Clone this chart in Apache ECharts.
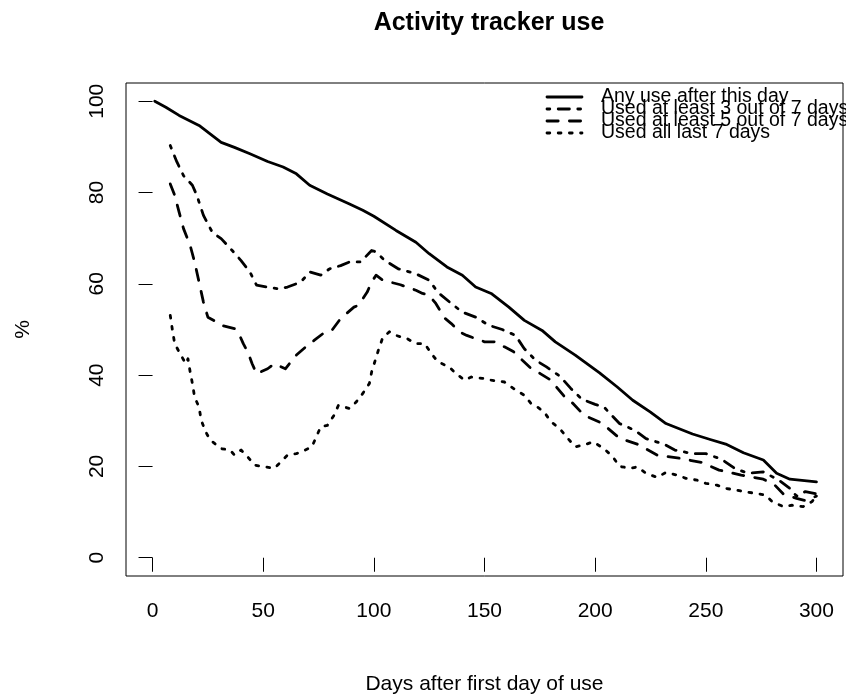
<!DOCTYPE html>
<html>
<head>
<meta charset="utf-8">
<script src="https://cdn.jsdelivr.net/npm/echarts@6/dist/echarts.min.js"></script>
<style>
html,body{margin:0;padding:0;background:#fff;}
#chart{width:846px;height:696px;}
</style>
</head>
<body>
<div id="chart"></div>
<script>
// ---- Data ----
const seriesNames = [
  "Any use after this day",
  "Used at least 3 out of 7 days",
  "Used at least 5 out of 7 days",
  "Used all last 7 days"
];

const anyUseDays = [1,6,12,21,31,37,44,52,59,65,71,79,89,95,100,110,119,125,133,140,146,153,161,168,176,182,191,202,210,217,225,232,244,252,259,267,276,282,288,300];
const anyUseVals = [100,98.7,96.9,94.7,91,89.9,88.5,86.8,85.6,84.1,81.6,79.7,77.5,76.1,74.8,71.7,69.1,66.6,63.7,61.9,59.3,57.9,54.9,52,49.8,47.3,44.4,40.5,37.4,34.5,31.9,29.4,27.1,25.9,24.9,23,21.4,18.5,17.2,16.6];

const least3Days = [8,11,14,18,20,23,27,31,36,40,44,47,52,57,61,67,71,76,80,85,89,94,99,101,105,111,119,125,129,135,140,146,152,158,164,168,173,178,184,189,194,200,204,211,218,223,231,236,244,250,257,263,269,276,283,288,291,295,300];
const least3Vals = [90.3,86.7,83.7,81.6,79.4,75,71.3,69.9,67.3,65.1,62.6,59.7,59.3,58.9,59.3,60.4,62.6,61.9,63.3,64,64.8,64.8,67.3,67,65.1,63.3,62.2,60.8,58.1,55.7,53.8,52.7,50.9,50,48.7,45.8,43.3,41.8,39.8,37.1,34.7,33.6,33,29.4,27.9,26.1,24.9,23.6,22.8,22.8,21.6,19.6,18.5,18.8,17,15.2,13.5,14.5,14];

const least5Days = [8,10,12,14,17,19,21,23,25,29,31,37,39,41,43,45,47,52,55,60,65,70,73,77,81,85,91,93,97,99,101,104,112,119,122,125,128,132,135,139,142,146,150,155,159,163,167,171,175,180,183,187,190,195,203,211,219,228,238,248,256,266,276,281,285,291,295,300];
const least5Vals = [81.9,79.4,75.7,72.1,68.4,64.8,60.4,56,52.7,51.6,50.9,50.2,49.1,46.9,45.1,42.5,40.3,41.4,42.5,41.4,44.4,46.5,47.6,49.1,49.8,52.4,54.9,55.3,58.2,60.4,61.9,60.8,59.8,58.6,57.9,57.5,55.7,52.5,51.3,49.4,48.7,48,47.3,47.3,46.2,45.2,43.3,41.5,40.4,38.9,37.1,34.8,33.8,31.2,29.5,26.2,24.9,22.5,21.8,20.9,19.2,18.1,17.2,16,14,13,12.5,13.5];

const allDays = [8,9,10,12,15,16,17,18,19,21,22,24,26,31,35,37,40,43,46,51,55,58,61,65,69,72,74,76,79,82,84,89,92,95,98,99,102,104,107,110,115,119,123,126,129,134,137,141,144,149,153,159,163,168,171,174,177,180,184,187,191,195,199,204,208,211,216,219,223,228,232,237,241,246,250,255,259,264,268,273,277,280,285,289,294,298,300];
const allVals = [53.1,49.8,46.9,45.1,42.5,43.6,40.7,38.2,35.2,33,30.1,27.6,25.8,23.9,23.6,22.5,23.6,22.1,20.3,19.9,19.6,21,22.5,22.8,23.6,24.3,26.5,28.7,29,31.2,33.4,32.7,34.1,36,38.2,40.7,45.4,48.2,49.5,48.7,48,46.9,46.9,44.7,42.9,41.8,40.4,38.9,39.6,39.3,38.9,38.5,37.1,35.6,33.8,33,31.9,29.8,28.3,26.5,24.3,24.7,25.4,23.9,22.1,20,19.6,19.9,18.5,17.6,18.7,18.1,17.4,17,16.3,15.9,15.2,14.8,14.4,14.1,13.7,12.3,11.2,11.5,11.2,12.3,13.5];

const xTicks = [0,50,100,150,200,250,300];
const yTicks = [0,20,40,60,80,100];

// ---- Build ----
function pairs(xs, ys){ const n=Math.min(xs.length, ys.length); const out=[]; for(let i=0;i<n;i++) out.push([xs[i], ys[i]]); return out; }
const FONT = '"Liberation Sans", Arial, Helvetica, sans-serif';
const dashes = [null, [2.8, 8.4, 11.2, 8.4], [11.2, 11.2], [2.8, 8.4]];
const dataSets = [pairs(anyUseDays, anyUseVals), pairs(least3Days, least3Vals), pairs(least5Days, least5Vals), pairs(allDays, allVals)];

// Legend (R style, no box, tight rows) drawn as graphic elements
const legendLeft = 547, legendSampleLen = 35, legendTextX = 601, legendTop = 97, legendRowH = 12;
const legendGraphics = [];
seriesNames.forEach((name, i) => {
  const y = legendTop + i * legendRowH;
  legendGraphics.push({
    type: 'line', silent: true,
    shape: {x1: legendLeft, y1: y, x2: legendLeft + legendSampleLen, y2: y},
    style: {stroke: '#000', lineWidth: 2.8, lineDash: dashes[i] || null, lineCap: 'round'}
  });
  legendGraphics.push({
    type: 'text', silent: true, x: legendTextX, y: y,
    style: {text: name, fontFamily: FONT, fontSize: 19.5, fill: '#000', verticalAlign: 'middle', align: 'left'}
  });
});

const chart = echarts.init(document.getElementById('chart'), null, {renderer: 'canvas'});
chart.setOption({
  animation: false,
  backgroundColor: '#ffffff',
  textStyle: {fontFamily: FONT, color: '#000'},
  title: {
    text: 'Activity tracker use',
    left: 484, top: 6, textAlign: 'center',
    textStyle: {fontFamily: FONT, fontSize: 25, fontWeight: 'bold', color: '#000'}
  },
  graphic: legendGraphics,
  grid: {left: 126, right: 3, top: 83, bottom: 120, show: true, borderColor: '#000', borderWidth: 1,
         backgroundColor: 'transparent', outerBoundsMode: 'none', containLabel: false},
  xAxis: {
    type: 'value', min: -12, max: 312,
    name: 'Days after first day of use', nameLocation: 'middle', nameGap: 98,
    nameTextStyle: {fontFamily: FONT, fontSize: 21, color: '#000'},
    axisLine: {show: false},
    splitLine: {show: false},
    axisTick: {show: true, inside: false, length: 14, customValues: xTicks, lineStyle: {color: '#000', width: 1}},
    axisLabel: {customValues: xTicks, fontFamily: FONT, fontSize: 21, color: '#000', margin: 25}
  },
  yAxis: {
    type: 'value', min: -4, max: 104,
    name: '%', nameLocation: 'middle', nameGap: 92, nameRotate: 90,
    nameTextStyle: {fontFamily: FONT, fontSize: 21, color: '#000'},
    axisLine: {show: false},
    splitLine: {show: false},
    axisTick: {show: true, inside: false, length: 14, customValues: yTicks, lineStyle: {color: '#000', width: 1}},
    axisLabel: {customValues: yTicks, rotate: 90, fontFamily: FONT, fontSize: 21, color: '#000', margin: 18}
  },
  series: seriesNames.map((name, i) => ({
    name: name,
    type: 'line',
    data: dataSets[i],
    symbol: 'none',
    showSymbol: false,
    smooth: false,
    lineStyle: {color: '#000', width: 2.8, type: dashes[i] || 'solid', cap: 'round', join: 'round'},
    itemStyle: {color: '#000'},
    clip: true
  }))
});
</script>
</body>
</html>
